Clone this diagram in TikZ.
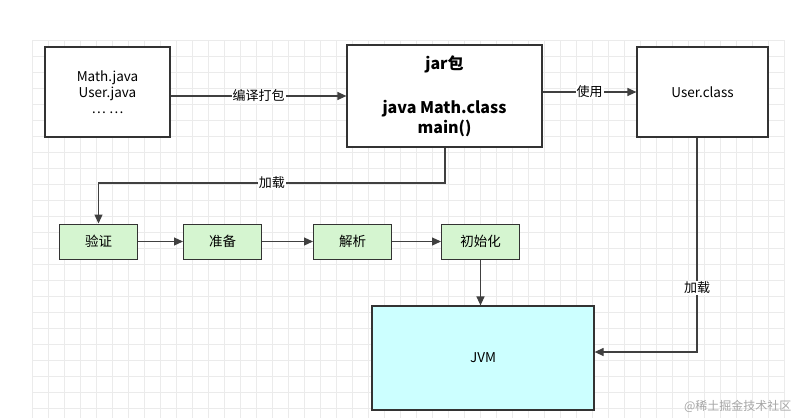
\documentclass[tikz,border=0pt]{standalone}
\usepackage{fontspec}
\setmainfont{Noto Sans CJK SC}
\usetikzlibrary{arrows.meta}
\definecolor{jvmc}{HTML}{CCFFFF}
\definecolor{grc}{HTML}{D5F5D0}
\begin{document}
\begin{tikzpicture}[x=1pt,y=-1pt,
 box/.style={draw=black!80,line width=1.2pt,fill=white,minimum width=#1,inner sep=0pt,align=center,font=\fontsize{13.5}{16}\selectfont},
 gbox/.style={draw=black!80,line width=1pt,fill=grc,minimum width=78pt,minimum height=35pt,font=\fontsize{13.5}{16}\selectfont},
 arr/.style={-{Triangle[length=9pt,width=8pt]},line width=1.2pt,draw=black!75},
 lbl/.style={fill=white,inner sep=1pt,font=\fontsize{13}{15}\selectfont}]
\useasboundingbox (0,0) rectangle (800,418);
\fill[white] (0,0) rectangle (800,418);
\foreach \x in {32,48,...,784} \draw[black!8,line width=0.4pt] (\x,40)--(\x,418);
\foreach \y in {40,56,...,418} \draw[black!8,line width=0.4pt] (32,\y)--(784,\y);
\node[box=125pt,minimum height=90pt] (src) at (107.5,92) {Math.java\\User.java\\… …};
\node[box=195pt,minimum height=102pt,font=\bfseries\fontsize{16}{20}\selectfont] (jar) at (444.5,96) {};
\node[font=\bfseries\fontsize{16}{20}\selectfont,align=center] (jart) at (444.5,96) {jar包\\[24pt]java Math.class\\main()};
\node[box=131pt,minimum height=90pt] (user) at (702.5,92) {User.class};
\node[gbox] (v) at (98.5,241.5) {验证};
\node[gbox] (p) at (222.5,241.5) {准备};
\node[gbox] (r) at (352.5,241.5) {解析};
\node[gbox] (i) at (480.5,241.5) {初始化};
\node[box=222pt,minimum height=104pt,fill=jvmc] (jvm) at (483,358) {JVM};
\coordinate (c1) at (445,183);
\coordinate (c2) at (98.5,183);
\coordinate (c3) at (697,352);
\draw[arr] (src.east|-jar.center) -- node[lbl]{编译打包} (jar.west|-jar.center);
\draw[arr] (jar.east|-user) -- node[lbl]{使用} (user);
\draw[arr] (jar.south-|c1) -- (c1) -- node[lbl,pos=0.5]{加载} (c2) -- (v);
\draw[arr] (v) -- (p);
\draw[arr] (p) -- (r);
\draw[arr] (r) -- (i);
\draw[arr] (i) -- (i|-jvm.north);
\draw[arr] (user.south-|c3) -- node[lbl,pos=0.7]{加载} (c3) -- (jvm.east|-c3);
\node[text=black!35,font=\fontsize{12}{14}\selectfont,anchor=south east] (wm) at (795,416) {@稀土掘金技术社区};
\end{tikzpicture}
\end{document}
